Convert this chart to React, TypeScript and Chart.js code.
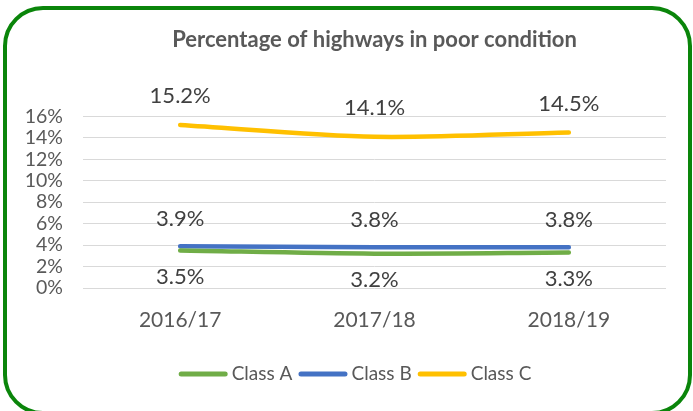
import React, { useEffect, useRef } from "react";
import { Chart, registerables } from "chart.js";

Chart.register(...registerables);

const categories = ["2016/17", "2017/18", "2018/19"];
const classA = [3.5, 3.2, 3.3];
const classB = [3.9, 3.8, 3.8];
const classC = [15.2, 14.1, 14.5];
const yTicks = [0, 2, 4, 6, 8, 10, 12, 14, 16];
const titleText = "Percentage of highways in poor condition";

const FONT = "Lato, 'Open Sans', sans-serif";

const labelPlugin = {
  id: "valueLabels",
  afterDatasetsDraw(chart: any) {
    const ctx = chart.ctx;
    ctx.save();
    ctx.font = `22px ${FONT}`;
    ctx.fillStyle = "#404040";
    ctx.textAlign = "center";
    ctx.textBaseline = "middle";
    chart.data.datasets.forEach((ds: any, i: number) => {
      const meta = chart.getDatasetMeta(i);
      meta.data.forEach((pt: any, j: number) => {
        ctx.fillText(ds.data[j].toFixed(1) + "%", pt.x, pt.y + ds.labelOffset);
      });
    });
    ctx.restore();
  },
};

const legendPlugin = {
  id: "lineLegend",
  afterDraw(chart: any) {
    const ctx = chart.ctx;
    ctx.save();
    ctx.font = `19px ${FONT}`;
    ctx.textBaseline = "middle";
    ctx.textAlign = "left";
    const lineW = 49;
    const gap = 4;
    const itemGap = 6;
    const items = chart.data.datasets.map((ds: any) => ({
      label: ds.label,
      color: ds.borderColor,
      w: ctx.measureText(ds.label).width,
    }));
    const total =
      items.reduce((s: number, it: any) => s + lineW + gap + it.w, 0) + itemGap * (items.length - 1);
    let x = 355 - total / 2;
    const y = 374;
    items.forEach((it: any) => {
      ctx.strokeStyle = it.color;
      ctx.lineWidth = 5;
      ctx.lineCap = "round";
      ctx.beginPath();
      ctx.moveTo(x + 2.5, y);
      ctx.lineTo(x + lineW - 2.5, y);
      ctx.stroke();
      ctx.fillStyle = "#595959";
      ctx.fillText(it.label, x + lineW + gap, y);
      x += lineW + gap + it.w + itemGap;
    });
    ctx.restore();
  },
};

export default function App() {
  const ref = useRef<HTMLCanvasElement>(null);
  useEffect(() => {
    if (!ref.current) return;
    const common = {
      borderWidth: 4.5,
      pointRadius: 0,
      tension: 0.3,
      borderCapStyle: "round",
    };
    const chart = new Chart(ref.current, {
      type: "line",
      data: {
        labels: categories,
        datasets: [
          { label: "Class A", data: classA, borderColor: "#70AD47", backgroundColor: "#70AD47", labelOffset: 26, ...common } as any,
          { label: "Class B", data: classB, borderColor: "#4472C4", backgroundColor: "#4472C4", labelOffset: -27, ...common } as any,
          { label: "Class C", data: classC, borderColor: "#FFC000", backgroundColor: "#FFC000", labelOffset: -29, ...common } as any,
        ],
      },
      options: {
        animation: false,
        responsive: false,
        layout: { padding: { left: 0, right: 27, top: 0, bottom: 0 } },
        plugins: {
          title: {
            display: true,
            fullSize: false,
            text: titleText,
            color: "#595959",
            font: { family: FONT, size: 22, weight: "bold" },
            padding: { top: 27, bottom: 63 },
          },
          legend: { display: false },
          tooltip: { enabled: false },
        },
        scales: {
          x: {
            offset: true,
            grid: { display: false, drawTicks: false, offset: true },
            border: { display: false },
            ticks: {
              color: "#595959",
              font: { family: FONT, size: 21 },
              padding: 20,
            },
            afterFit(scale: any) {
              scale.height = 123;
            },
          },
          y: {
            min: 0,
            max: 16,
            afterBuildTicks(scale: any) {
              scale.ticks = yTicks.map((v) => ({ value: v }));
            },
            grid: { color: "#D9D9D9", lineWidth: 1, drawTicks: false },
            border: { display: false },
            ticks: {
              autoSkip: false,
              color: "#595959",
              font: { family: FONT, size: 19.5 },
              padding: 20,
              callback: (v: any) => v + "%",
            },
            afterFit(scale: any) {
              scale.width = 83;
            },
          },
        },
      } as any,
      plugins: [labelPlugin, legendPlugin],
    });
    return () => chart.destroy();
  }, []);
  return (
    <div style={{ position: "fixed", left: 0, top: 0, width: 693, height: 411, background: "#fff", overflow: "hidden" }}>
      <div
        style={{
          position: "absolute",
          left: 3,
          top: 6,
          width: 693 - 3 - 1 - 8,
          height: 411 - 6 + 4 - 8,
          border: "4px solid #0A850A",
          borderRadius: 40,
        }}
      />
      <canvas ref={ref} width={693} height={411} style={{ position: "absolute", left: 0, top: 0 }} />
    </div>
  );
}
